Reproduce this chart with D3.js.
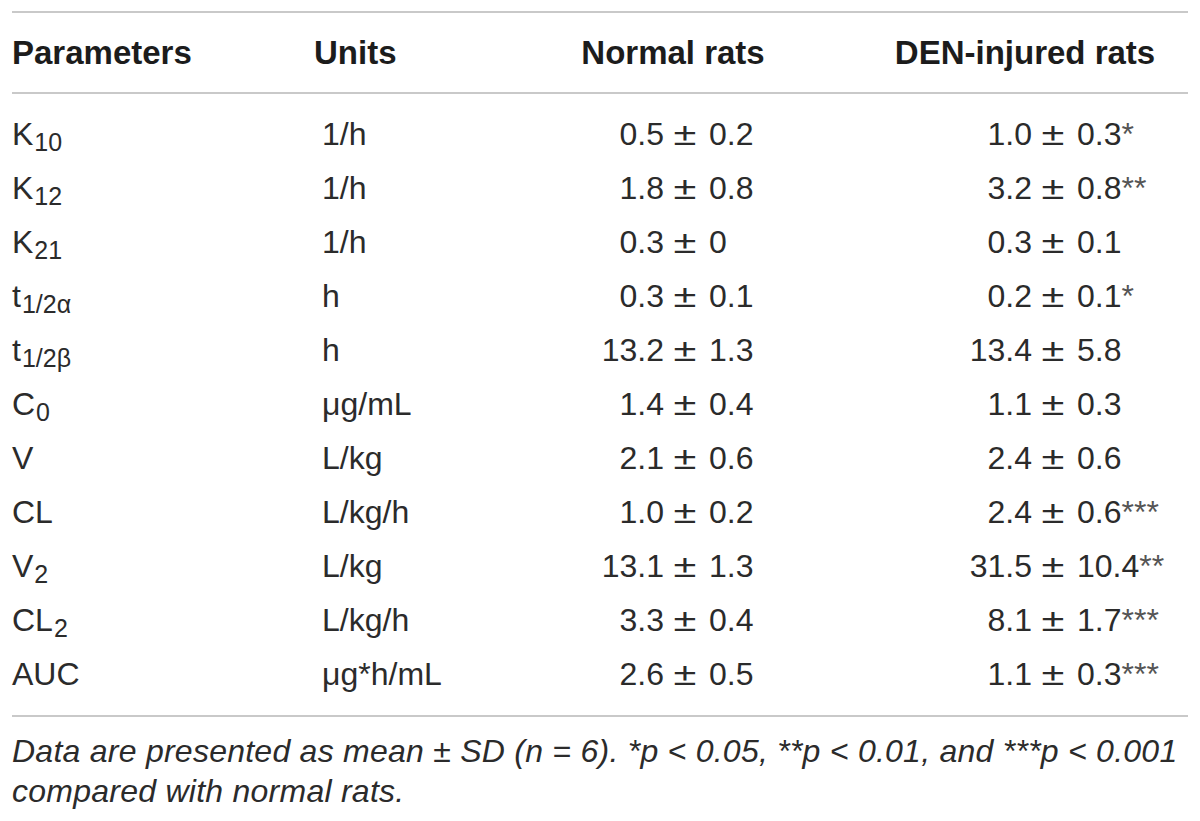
<!DOCTYPE html>
<html>
<head>
<meta charset="utf-8">
<script src="https://cdn.jsdelivr.net/npm/d3@7"></script>
<style>
  html, body { margin: 0; padding: 0; background: #fff; }
  svg { display: block; }
</style>
</head>
<body>
<svg id="chart" width="1200" height="821"></svg>
<script>
// ---- data ----
const columnHeaders = ["Parameters", "Units", "Normal rats", "DEN-injured rats"];
const paramBase = ["K", "K", "K", "t", "t", "C", "V", "CL", "V", "CL", "AUC"];
const paramSub  = ["10", "12", "21", "1/2α", "1/2β", "0", "", "", "2", "2", ""];
const units     = ["1/h", "1/h", "1/h", "h", "h", "μg/mL", "L/kg", "L/kg/h", "L/kg", "L/kg/h", "μg*h/mL"];
const normalMean = ["0.5", "1.8", "0.3", "0.3", "13.2", "1.4", "2.1", "1.0", "13.1", "3.3", "2.6"];
const normalSD   = ["0.2", "0.8", "0",   "0.1", "1.3",  "0.4", "0.6", "0.2", "1.3",  "0.4", "0.5"];
const denMean    = ["1.0", "3.2", "0.3", "0.2", "13.4", "1.1", "2.4", "2.4", "31.5", "8.1", "1.1"];
const denSD      = ["0.3", "0.8", "0.1", "0.1", "5.8",  "0.3", "0.6", "0.6", "10.4", "1.7", "0.3"];
const denSig     = ["*",   "**",  "",    "*",   "",     "",    "",    "***", "**",   "***", "***"];
const footnoteLines = [
  "Data are presented as mean ± SD (n = 6). *p < 0.05, **p < 0.01, and ***p < 0.001",
  "compared with normal rats."
];

// ---- layout ----
const W = 1200, H = 821;
const left = 12, right = 1188;
const bodyFont = "'Liberation Sans', Arial, Helvetica, sans-serif";
const textColor = "#2b2b2b";
const ruleColor = "#c9c9c9";

const svg = d3.select("#chart");
svg.append("rect").attr("width", W).attr("height", H).attr("fill", "#fff");

const rows = d3.range(paramBase.length);
const y = d3.scalePoint().domain(rows).range([145, 685]);

// rules
const rules = [12, 93, 716];
svg.selectAll("line.rule").data(rules).join("line")
  .attr("class", "rule")
  .attr("x1", left).attr("x2", right)
  .attr("y1", d => d).attr("y2", d => d)
  .attr("stroke", ruleColor).attr("stroke-width", 2);

// header
const headerX = [12, 314, 673, 1025];
const headerAnchor = ["start", "start", "middle", "middle"];
svg.selectAll("text.head").data(columnHeaders).join("text")
  .attr("class", "head")
  .attr("x", (d, i) => headerX[i])
  .attr("y", 64)
  .attr("text-anchor", (d, i) => headerAnchor[i])
  .attr("font-family", bodyFont)
  .attr("font-weight", "bold")
  .attr("font-size", 33)
  .attr("fill", "#1c1c1c")
  .text(d => d);

const g = svg.append("g")
  .attr("font-family", bodyFont)
  .attr("font-size", 32)
  .attr("fill", textColor);

// parameters with subscripts
const pText = g.selectAll("text.param").data(rows).join("text")
  .attr("class", "param")
  .attr("x", 12)
  .attr("y", i => y(i));
pText.append("tspan").text(i => paramBase[i]);
pText.filter(i => paramSub[i] !== "").append("tspan")
  .attr("font-size", 25)
  .attr("dy", 6)
  .attr("dx", 1)
  .text(i => paramSub[i]);

// units
g.selectAll("text.unit").data(rows).join("text")
  .attr("class", "unit")
  .attr("x", 322)
  .attr("y", i => y(i))
  .text(i => units[i]);

// value columns aligned on ±
function valueColumn(cls, pmX, means, sds, sigs) {
  g.selectAll("text." + cls + "m").data(rows).join("text")
    .attr("class", cls + "m")
    .attr("x", pmX - 21)
    .attr("y", i => y(i))
    .attr("text-anchor", "end")
    .text(i => means[i]);
  g.selectAll("text." + cls + "pm").data(rows).join("text")
    .attr("class", cls + "pm")
    .attr("x", pmX)
    .attr("y", i => y(i))
    .attr("text-anchor", "middle")
    .attr("transform", i => `translate(${pmX},0) scale(1.3,1) translate(${-pmX},0)`)
    .text("±");
  const t = g.selectAll("text." + cls + "s").data(rows).join("text")
    .attr("class", cls + "s")
    .attr("x", pmX + 24)
    .attr("y", i => y(i));
  t.append("tspan").text(i => sds[i]);
  if (sigs) t.append("tspan").attr("fill", "#555").text(i => sigs[i]);
}
valueColumn("nr", 685, normalMean, normalSD, null);
valueColumn("den", 1053, denMean, denSD, denSig);

// footnote
svg.selectAll("text.foot").data(footnoteLines).join("text")
  .attr("class", "foot")
  .attr("x", 12)
  .attr("y", (d, i) => 762 + i * 40)
  .attr("font-family", bodyFont)
  .attr("font-style", "italic")
  .attr("font-size", 32)
  .attr("letter-spacing", 0.25)
  .attr("fill", textColor)
  .text(d => d);
</script>
</body>
</html>
